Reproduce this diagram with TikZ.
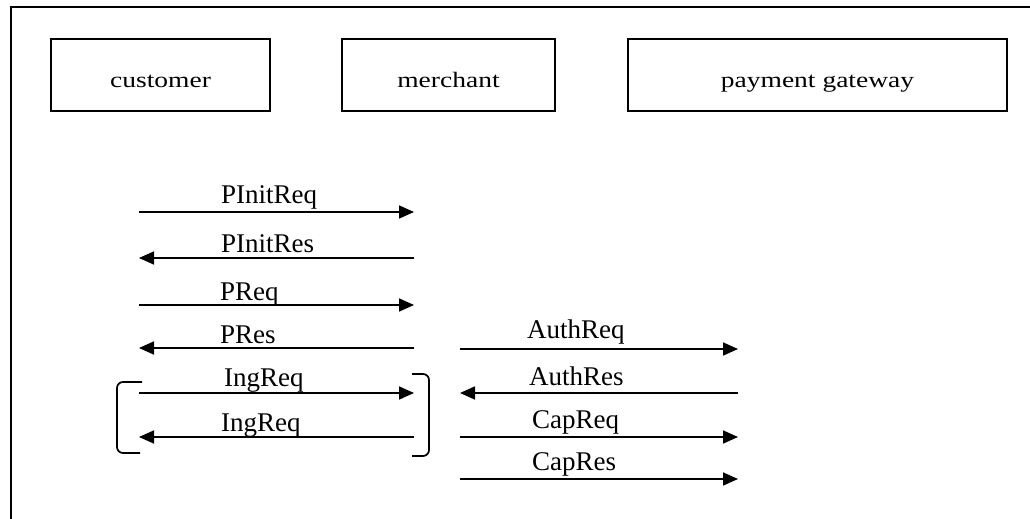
\documentclass[tikz,border=0pt]{standalone}
\usepackage{fontspec}
\setmainfont{Liberation Serif}
\newfontfamily\boxfont[FakeStretch=1.25]{Liberation Serif}
\usetikzlibrary{arrows.meta}

\tikzset{
  party/.style={draw, line width=1.6pt, inner sep=0pt, minimum height=72pt,
    text height=26pt, text depth=0pt, font=\boxfont\fontsize{22}{24}\selectfont},
  msg/.style={line width=1.7pt, -{Triangle[length=15pt,width=13pt]}},
  msglabel/.style={anchor=base west, inner sep=0pt, font=\fontsize{27}{30}\selectfont},
  brace/.style={line width=1.7pt, rounded corners=6pt},
  frame/.style={line width=1.5pt}
}

\begin{document}
\begin{tikzpicture}[x=1pt, y=-1pt]
  \useasboundingbox (0,0) rectangle (1030,519);

  % outer frame (top and left edges)
  \coordinate (fl) at (11,519);
  \coordinate (fc) at (11,7);
  \coordinate (fr) at (1030,7);
  \draw[frame] (fl) -- (fc) -- (fr);

  % parties
  \node[party, minimum width=219pt] (cust) at (160.5,75) {customer};
  \node[party, minimum width=213pt] (merch) at (448.5,75) {merchant};
  \node[party, minimum width=379pt] (gw) at (817.5,75) {payment gateway};

  % message end points: customer/merchant column
  \foreach \n/\y in {1/212, 2/258, 3/305, 4/348, 5/393, 6/437} {
    \coordinate (cl\n) at (139,\y);
    \coordinate (cr\n) at (414,\y);
  }
  % message end points: merchant/gateway column
  \foreach \n/\y in {1/349, 2/393, 3/437, 4/479} {
    \coordinate (ml\n) at (460,\y);
    \coordinate (mr\n) at (738,\y);
  }

  % customer <-> merchant messages
  \draw[msg] (cl1) -- (cr1);
  \draw[msg] (cr2) -- (cl2);
  \draw[msg] (cl3) -- (cr3);
  \draw[msg] (cr4) -- (cl4);
  \draw[msg] (cl5) -- (cr5);
  \draw[msg] (cr6) -- (cl6);

  \node[msglabel] (l1) at (221,203) {PInitReq};
  \node[msglabel] (l2) at (221,252) {PInitRes};
  \node[msglabel] (l3) at (220,300) {PReq};
  \node[msglabel] (l4) at (220,343) {PRes};
  \node[msglabel] (l5) at (224,386) {IngReq};
  \node[msglabel] (l6) at (221,431) {IngReq};

  % merchant <-> gateway messages
  \draw[msg] (ml1) -- (mr1);
  \draw[msg] (mr2) -- (ml2);
  \draw[msg] (ml3) -- (mr3);
  \draw[msg] (ml4) -- (mr4);

  \node[msglabel] (r1) at (527,338) {AuthReq};
  \node[msglabel] (r2) at (529,385) {AuthRes};
  \node[msglabel] (r3) at (532,428) {CapReq};
  \node[msglabel] (r4) at (532,470) {CapRes};

  % brackets round the repeated exchange
  \coordinate (bl1) at (142,382);
  \coordinate (bl2) at (117,382);
  \coordinate (bl3) at (117,453);
  \coordinate (bl4) at (140,453);
  \draw[brace] (bl1) -- (bl2) -- (bl3) -- (bl4);

  \coordinate (br1) at (412,374);
  \coordinate (br2) at (429,374);
  \coordinate (br3) at (429,456);
  \coordinate (br4) at (412,456);
  \draw[brace] (br1) -- (br2) -- (br3) -- (br4);
\end{tikzpicture}
\end{document}
